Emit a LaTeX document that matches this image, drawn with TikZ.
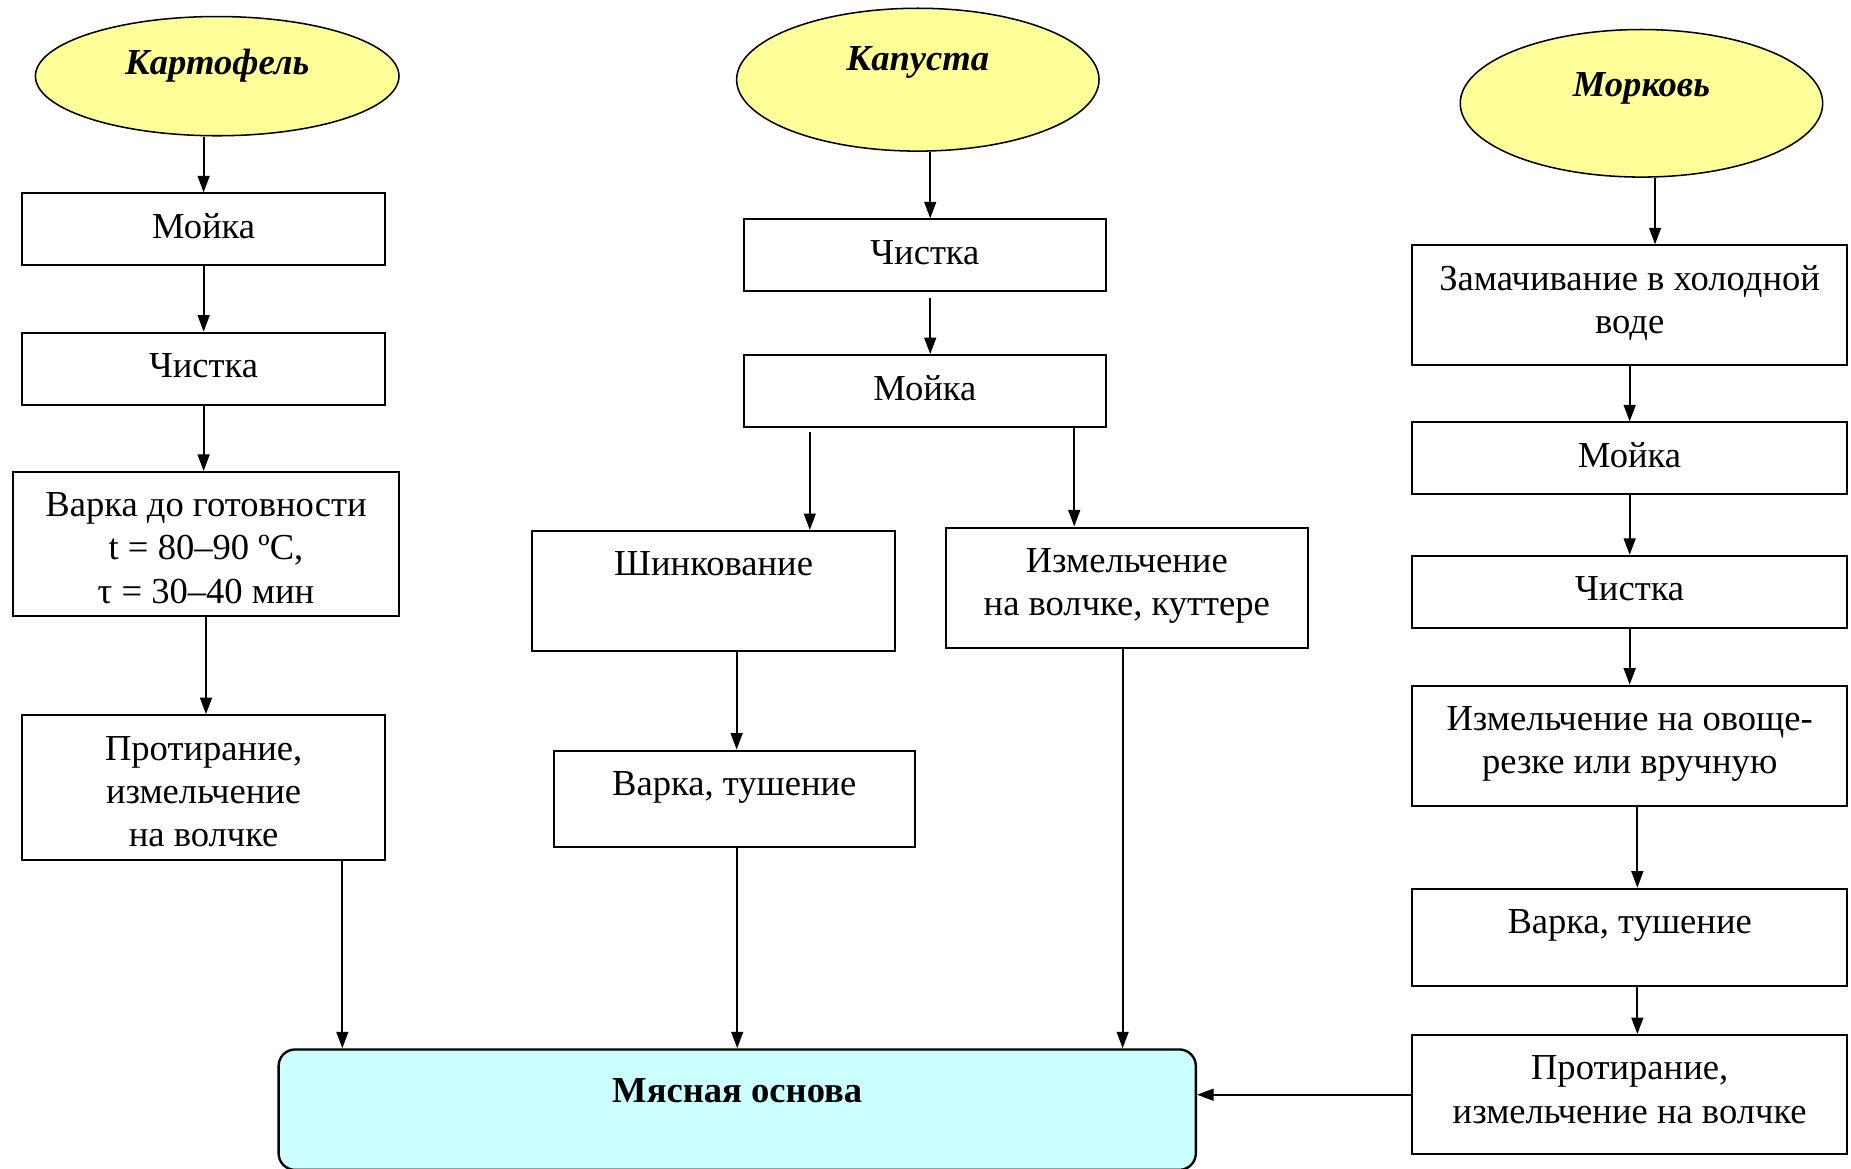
\documentclass[tikz,border=0pt]{standalone}
\usepackage{fontspec}
\setmainfont{Liberation Serif}
\usetikzlibrary{arrows.meta,shapes.geometric}

\definecolor{vegyellow}{RGB}{255,255,153}
\definecolor{basecyan}{RGB}{204,255,255}

\tikzset{every picture/.style={line width=1.7pt},
  every node/.style={font=\fontsize{31}{36.5}\selectfont},
  stepbox/.style n args={3}{draw, anchor=north, inner sep=0pt, align=center,
    minimum width=#1, text height=#2, text depth=#3},
  vegoval/.style n args={3}{draw, ellipse, fill=vegyellow, line width=1.3pt, inner sep=0pt,
    minimum width=#1, minimum height=#2, text height=22pt, text depth=#3,
    font=\fontsize{31}{36.5}\selectfont\bfseries\itshape},
  basebox/.style={draw, fill=basecyan, rounded corners=14pt, line width=2pt, anchor=north,
    inner sep=0pt, minimum width=777pt, text height=45pt, text depth=57pt,
    font=\fontsize{31}{36.5}\selectfont\bfseries}
}

\begin{document}
\begin{tikzpicture}[x=1pt,y=1pt,yscale=-1,xscale=1,>={Triangle[length=14pt,width=10pt]}]

\useasboundingbox (0,0) rectangle (1568,990);

\draw (184,64.5) node [vegoval={308pt}{101pt}{25pt}] (e1) {Картофель};
\draw (777.5,67.5) node [vegoval={307pt}{121pt}{37pt}] (e2) {Капуста};
\draw (1390.5,87.5) node [vegoval={307pt}{125pt}{33pt}] (e3) {Морковь};

\draw (172.5,163) node [stepbox={307pt}{38pt}{23pt}] (m1) {Мойка};
\draw (172.5,281) node [stepbox={307pt}{38pt}{23pt}] (c1) {Чистка};
\draw (174.5,399) node [stepbox={327pt}{111pt}{11pt}] (v1) {Варка до готовности\\t = 80–90 ºC,\\τ = 30–40 мин};
\draw (172.5,605) node [stepbox={307pt}{111pt}{12pt}] (p1) {Протирание,\\измельчение\\на волчке};

\draw (783.5,185) node [stepbox={307pt}{38pt}{23pt}] (c2) {Чистка};
\draw (783.5,300) node [stepbox={307pt}{38pt}{23pt}] (m2) {Мойка};
\draw (604.5,449) node [stepbox={307pt}{38pt}{64pt}] (s2) {Шинкование};
\draw (622,635) node [stepbox={306pt}{38pt}{44pt}] (v2) {Варка, тушение};
\draw (954.5,446) node [stepbox={307pt}{74.5pt}{27.5pt}] (i2) {Измельчение\\на волчке, куттере};

\draw (1380.5,207) node [stepbox={369pt}{74.5pt}{26.5pt}] (z3) {Замачивание в холодной\\воде};
\draw (1380.5,357) node [stepbox={369pt}{38pt}{23pt}] (m3) {Мойка};
\draw (1380.5,470) node [stepbox={369pt}{38pt}{23pt}] (c3) {Чистка};
\draw (1380.5,580) node [stepbox={369pt}{74.5pt}{27.5pt}] (i3) {Измельчение на овоще-\\резке или вручную};
\draw (1380.5,752) node [stepbox={369pt}{38pt}{44pt}] (v3) {Варка, тушение};
\draw (1380.5,876) node [stepbox={369pt}{74.5pt}{26.5pt}] (p3) {Протирание,\\измельчение на волчке};

\draw (624.5,888) node [basebox] (base) {Мясная основа};

\draw [->] (e1.south -| m1.north) -- (m1.north);
\draw [->] (m1.south) -- (c1.north);
\draw [->] (c1.south) -- (c1.south |- v1.north);
\draw [->] (v1.south) -- (v1.south |- p1.north);
\draw [->] ([xshift=117.5]p1.south) -- ([xshift=117.5]p1.south |- base.north);

\draw [->] ([xshift=4.5]c2.north |- e2.south) -- ([xshift=4.5]c2.north);
\draw [->, shorten <=5pt] ([xshift=4.5]c2.south) -- ([xshift=4.5]m2.north);
\draw [->, shorten <=3pt] ([xshift=-97.5]m2.south) -- ([xshift=-97.5]m2.south |- s2.north);
\draw [->] ([xshift=126.5]m2.south) -- ([xshift=126.5]m2.south |- i2.north);
\draw [->] ([xshift=19.5]s2.south) -- ([xshift=19.5]s2.south |- v2.north);
\draw [->] ([xshift=2.5]v2.south) -- ([xshift=2.5]v2.south |- base.north);
\draw [->] ([xshift=-3.5]i2.south) -- ([xshift=-3.5]i2.south |- base.north);

\draw [->] ([xshift=21.5]z3.north |- e3.south) -- ([xshift=21.5]z3.north);
\draw [->] (z3.south) -- (m3.north);
\draw [->] (m3.south) -- (c3.north);
\draw [->] (c3.south) -- (i3.north);
\draw [->] ([xshift=6.5]i3.south) -- ([xshift=6.5]v3.north);
\draw [->] ([xshift=6.5]v3.south) -- ([xshift=6.5]p3.north);
\draw [->] (p3.west) -- (p3.west -| base.east);

\end{tikzpicture}
\end{document}
